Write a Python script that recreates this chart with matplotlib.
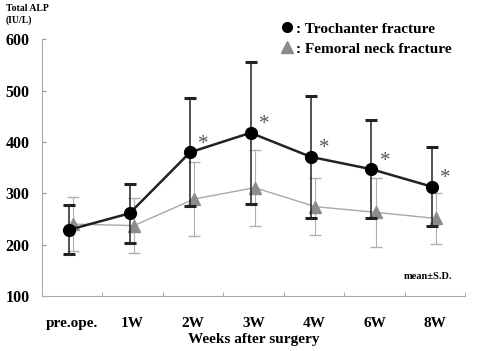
import matplotlib
matplotlib.use("Agg")
import matplotlib.pyplot as plt
from matplotlib.lines import Line2D
import numpy as np

# data (mean and S.D., IU/L)
weeks = ["pre.ope.", "1W", "2W", "3W", "4W", "6W", "8W"]
troch_mean = [229, 261, 380, 418, 371, 347, 313]
troch_sd = [48, 57, 105, 139, 119, 96, 77]
neck_mean = [240, 237, 289, 311, 274, 263, 251]
neck_sd = [52, 53, 72, 74, 55, 67, 50]
star_weeks = ["2W", "3W", "4W", "6W", "8W"]

plt.rcParams["font.family"] = ["Liberation Serif", "DejaVu Serif"]
plt.rcParams["font.weight"] = "bold"

fig = plt.figure(figsize=(4.8, 3.51), dpi=100)
ax = fig.add_axes([0.0875, 0.157, 0.8815, 0.7305])

x = np.arange(len(weeks))
grey = "#8c8c8c"

ax.errorbar(x + 0.02, neck_mean, yerr=neck_sd, fmt="none", ecolor="#b0b0b0",
            elinewidth=0.8, capsize=4, capthick=1.0, zorder=2)
ax.plot(x + 0.02, neck_mean, color="#a8a8a8", lw=1.0, marker="^", ms=9,
        mfc=grey, mec=grey, zorder=3)

ax.errorbar(x - 0.05, troch_mean, yerr=troch_sd, fmt="none", ecolor="#222222",
            elinewidth=1.1, capsize=4.5, capthick=2.2, zorder=4)
ax.plot(x - 0.05, troch_mean, color="#222222", lw=1.8, marker="o", ms=8.5,
        mfc="black", mec="black", zorder=5)

for w in star_weeks:
    i = weeks.index(w)
    ax.annotate("*", (x[i] - 0.05, troch_mean[i]), xytext=(6, -1),
                textcoords="offset points", fontsize=15, color="#555555",
                fontweight="normal", ha="left", va="bottom")

ax.set_xlim(-0.5, 6.5)
ax.set_ylim(100, 600)
ax.set_yticks([100, 200, 300, 400, 500, 600])
ax.set_xticks(x)
ax.set_xticklabels(weeks)
ax.set_xticks(np.arange(0.5, 7, 1), minor=True)
ax.tick_params(axis="x", which="major", length=0, pad=15, labelsize=11)
ax.tick_params(axis="x", which="minor", direction="in", length=3, color="#999999")
ax.tick_params(axis="y", direction="in", length=3, color="#999999", pad=9,
               labelsize=11.5)
for s in ["top", "right"]:
    ax.spines[s].set_visible(False)
for s in ["left", "bottom"]:
    ax.spines[s].set_color("#aaaaaa")
    ax.spines[s].set_linewidth(0.8)

ax.set_xlabel("Weeks after surgery", fontsize=11, fontweight="bold", labelpad=2)
fig.text(0.012, 0.99, "Total ALP\n(IU/L)", fontsize=7, fontweight="bold",
         va="top", ha="left", linespacing=1.35)
ax.text(0.97, 0.06, "mean\u00b1S.D.", transform=ax.transAxes, fontsize=7.5,
        fontweight="bold", ha="right", va="bottom")

handles = [
    Line2D([], [], ls="none", marker="o", ms=7, mfc="black", mec="black"),
    Line2D([], [], ls="none", marker="^", ms=8, mfc=grey, mec=grey),
]
ax.legend(handles, [": Trochanter fracture", ": Femoral neck fracture"],
          loc="upper left", bbox_to_anchor=(0.55, 1.092), frameon=False,
          fontsize=11, handlelength=0.8, handletextpad=0.2, labelspacing=0.4,
          borderaxespad=0)

fig.savefig("out.png", dpi=100)
